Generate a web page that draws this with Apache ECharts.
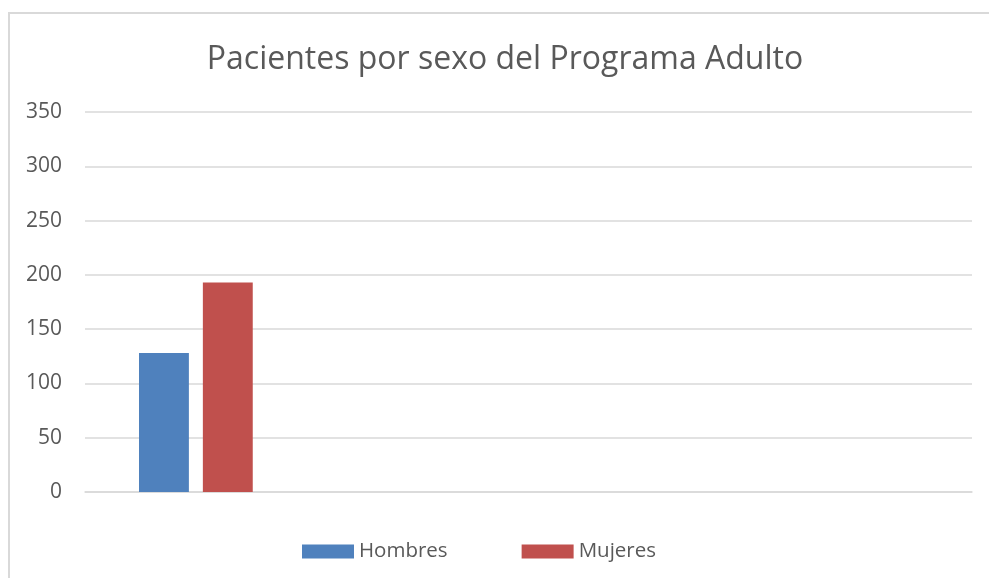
<!DOCTYPE html>
<html><head><meta charset="utf-8">
<script src="https://cdn.jsdelivr.net/npm/echarts@6/dist/echarts.min.js"></script>
<style>html,body{margin:0;padding:0;background:#fff}#c{width:989px;height:578px;position:relative}
#frame{position:absolute;left:8px;top:12px;width:1000px;height:600px;border:2px solid #d9d9d9;box-sizing:border-box;pointer-events:none}</style>
</head><body>
<div id="c"></div><div id="frame"></div>
<script>
const title = 'Pacientes por sexo del Programa Adulto';
const categories = ['', '', '', ''];
const seriesNames = ['Hombres', 'Mujeres'];
const hombres = [128, null, null, null];
const mujeres = [193, null, null, null];
const yTicks = [0, 350, 50];

const chart = echarts.init(document.getElementById('c'), null, {renderer: 'canvas'});
const font = 'Open Sans';
chart.setOption({
  animation: false,
  title: {text: title, left: 500, textAlign: 'center', top: 39,
    textStyle: {fontFamily: font, fontSize: 32, fontWeight: 'normal', color: '#595959'}},
  legend: {bottom: 11, left: 297, itemWidth: 52, itemHeight: 14, itemGap: 74,
    textStyle: {fontFamily: font, fontSize: 20.5, color: '#595959', padding: [0,0,0,0]},
    icon: 'rect', data: seriesNames},
  grid: {left: 85, right: 17, top: 112, bottom: 86, containLabel: false},
  xAxis: {type: 'category', data: categories,
    axisLine: {lineStyle: {color: '#d9d9d9', width: 1.5}}, axisTick: {show: false}, axisLabel: {show: false}},
  yAxis: {type: 'value', min: yTicks[0], max: yTicks[1], interval: yTicks[2],
    axisLine: {show: false}, axisTick: {show: false},
    axisLabel: {fontFamily: font, fontSize: 21, color: '#595959', margin: 23},
    splitLine: {lineStyle: {color: '#d9d9d9', width: 1.5}}},
  series: [
    {name: seriesNames[0], type: 'bar', data: hombres, barWidth: '22.5%', barGap: '28%', itemStyle: {color: '#4f81bd'}},
    {name: seriesNames[1], type: 'bar', data: mujeres, barWidth: '22.5%', barGap: '28%', itemStyle: {color: '#c0504d'}}
  ]
});
</script>
</body></html>
